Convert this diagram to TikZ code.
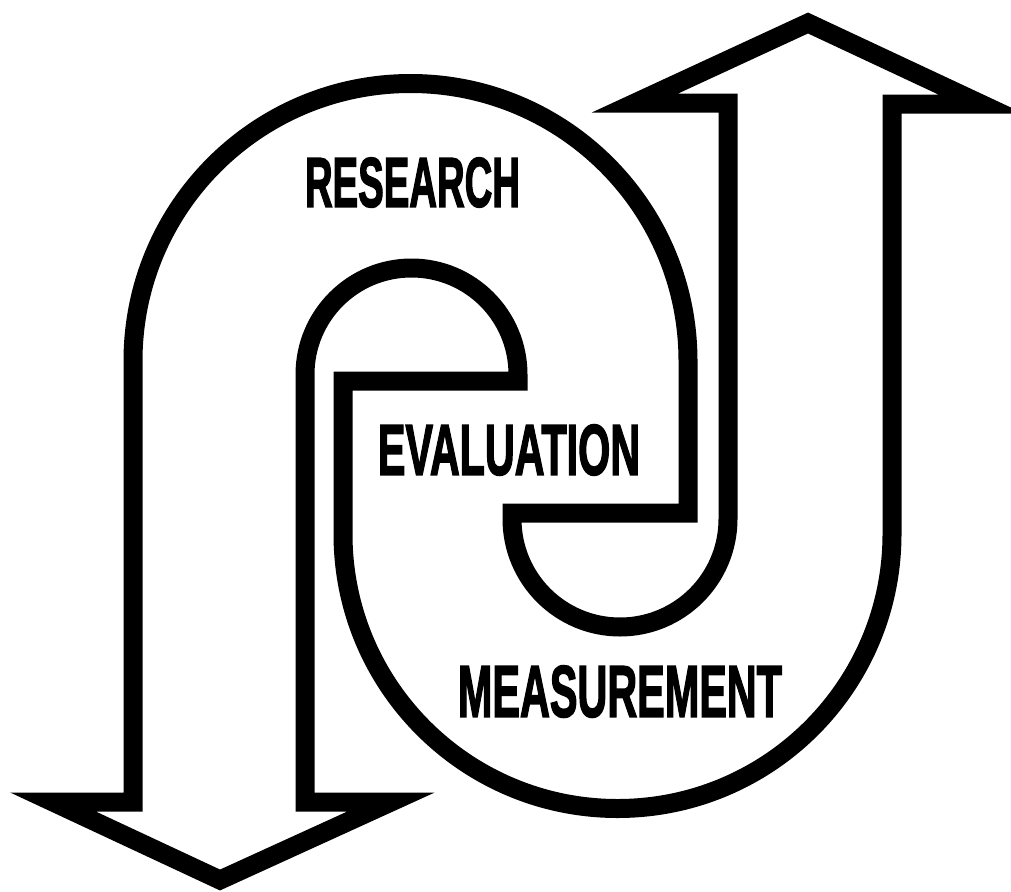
\documentclass[tikz,border=0pt]{standalone}
\usepackage{fontspec}
\setmainfont{Liberation Sans}
\newfontfamily\heavyfont[BoldFeatures={FakeBold=2.5}]{Liberation Sans}
\usepackage{graphicx}
\begin{document}
\begin{tikzpicture}[x=1pt,y=-1pt,
  band/.style={draw=black,line width=19pt,line join=miter,miter limit=10},
  word/.style={inner sep=0pt,outer sep=0pt}]
\useasboundingbox[fill=white] (0,0) rectangle (1011,891);
% the ribbon: down arrow, top loop, lower loop, up arrow
\draw[band] (220,880) -- (53,802) -- (133,802) -- (133,361)
  arc[start angle=180,end angle=360,radius=277.5]
  -- (688,513) -- (512,513) -- (512,519)
  arc[start angle=180,end angle=0,radius=108]
  -- (728,103) -- (635,103) -- (808,23) -- (981,104) -- (892,104) -- (892,534)
  arc[start angle=0,end angle=180,radius=274.5]
  -- (343,381) -- (518,381) -- (518,374.5)
  arc[start angle=0,end angle=-180,radius=106.5]
  -- (305,802) -- (391,802) -- cycle;
% labels
\node[word] (research) at (412.5,182.5) {\resizebox{215pt}{49pt}{\heavyfont\bfseries RESEARCH}};
\node[word] (evaluation) at (509,450) {\resizebox{262pt}{50pt}{\heavyfont\bfseries EVALUATION}};
\node[word] (measurement) at (620,691.5) {\resizebox{324pt}{51pt}{\heavyfont\bfseries MEASUREMENT}};
\end{tikzpicture}
\end{document}
